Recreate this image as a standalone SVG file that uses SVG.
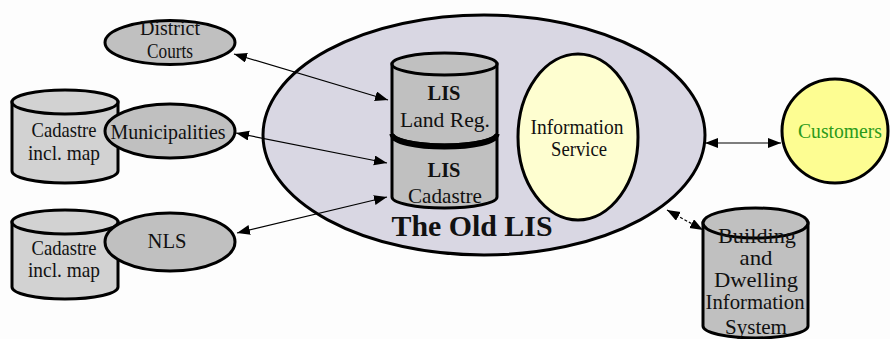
<svg xmlns="http://www.w3.org/2000/svg" width="890" height="339" viewBox="0 0 890 339">
  <style>
    .t { font-family: "Liberation Serif", "Times New Roman", serif; font-size: 21px; fill: #111; text-anchor: middle; }
    .b { font-weight: bold; }
    .big { font-size: 29px; }
    .green { fill: #2a9a1a; }
    .shape { stroke: #000; stroke-width: 3; }
    .gray { fill: #c0c0c0; }
    .light { fill: #d2d2d2; }
    .conn { stroke: #000; stroke-width: 1.2; fill: none; marker-start: url(#head); marker-end: url(#head); }
  </style>
  <defs>
    <marker id="head" markerUnits="userSpaceOnUse" markerWidth="14" markerHeight="11" refX="13" refY="5" orient="auto-start-reverse">
      <path d="M0,0 L13,5 L0,10 z" fill="#000"/>
    </marker>
  </defs>

  <rect width="890" height="339" fill="#fdfdfd"/>

  <!-- The Old LIS: container ellipse -->
  <g id="old-lis">
    <ellipse class="shape" cx="484" cy="135" rx="221" ry="120" fill="#d9d7e3"/>
    <text class="t b big" x="472" y="236" textLength="161" lengthAdjust="spacingAndGlyphs">The Old LIS</text>
  </g>

  <!-- LIS database stack: Land Reg. on top of Cadastre -->
  <g id="lis-land-reg">
    <path class="shape gray" d="M392,64 L392,133 A52.5,12 0 0 0 497,133 L497,64 Z"/>
    <ellipse class="shape gray" cx="444.5" cy="64" rx="52.5" ry="11"/>
    <text class="t b" x="444" y="100" textLength="33" lengthAdjust="spacingAndGlyphs">LIS</text>
    <text class="t" x="445" y="127" textLength="90" lengthAdjust="spacingAndGlyphs">Land Reg.</text>
  </g>
  <g id="lis-cadastre">
    <path class="shape gray" d="M392,136 L392,197 A52.5,11 0 0 0 497,197 L497,136 A52.5,12 0 0 1 392,136 Z"/>
    <path d="M392,134 A52.5,12 0 0 0 497,134" fill="none" stroke="#000" stroke-width="5"/>
    <text class="t b" x="444" y="177" textLength="33" lengthAdjust="spacingAndGlyphs">LIS</text>
    <text class="t" x="445" y="203" textLength="74" lengthAdjust="spacingAndGlyphs">Cadastre</text>
  </g>

  <!-- Information Service -->
  <g id="information-service">
    <ellipse class="shape" cx="578" cy="137" rx="60" ry="83" fill="#fefed0"/>
    <text class="t" x="577" y="134" textLength="93" lengthAdjust="spacingAndGlyphs">Information</text>
    <text class="t" x="579" y="156" textLength="56" lengthAdjust="spacingAndGlyphs">Service</text>
  </g>

  <!-- Customers -->
  <g id="customers">
    <ellipse class="shape" cx="835" cy="131" rx="53" ry="52" fill="#fdfd92"/>
    <text class="t green" x="840" y="138" textLength="84" lengthAdjust="spacingAndGlyphs">Customers</text>
  </g>

  <!-- Building and Dwelling Information System -->
  <g id="building-dwelling">
    <path class="shape gray" d="M703,223 L703,326 A52.5,12 0 0 0 808,326 L808,223 Z"/>
    <ellipse class="shape gray" cx="755.5" cy="223" rx="52.5" ry="15"/>
    <text class="t" x="757" y="243" textLength="78" lengthAdjust="spacingAndGlyphs">Building</text>
    <text class="t" x="756" y="265" textLength="33" lengthAdjust="spacingAndGlyphs">and</text>
    <text class="t" x="756" y="287" textLength="84" lengthAdjust="spacingAndGlyphs">Dwelling</text>
    <text class="t" x="755" y="309" textLength="99" lengthAdjust="spacingAndGlyphs">Information</text>
    <text class="t" x="756" y="334" textLength="62" lengthAdjust="spacingAndGlyphs">System</text>
  </g>

  <!-- Cadastre incl. map (upper) -->
  <g id="cadastre-map-1">
    <path class="shape light" d="M12,102 L12,171 A53,12 0 0 0 118,171 L118,102 Z"/>
    <ellipse class="shape light" cx="65" cy="102" rx="53" ry="12"/>
    <text class="t" x="64" y="137" textLength="65" lengthAdjust="spacingAndGlyphs">Cadastre</text>
    <text class="t" x="64" y="160" textLength="72" lengthAdjust="spacingAndGlyphs">incl. map</text>
  </g>

  <!-- Cadastre incl. map (lower) -->
  <g id="cadastre-map-2">
    <path class="shape light" d="M12,222 L12,287 A53,12 0 0 0 118,287 L118,222 Z"/>
    <ellipse class="shape light" cx="65" cy="222" rx="53" ry="12"/>
    <text class="t" x="64" y="255" textLength="65" lengthAdjust="spacingAndGlyphs">Cadastre</text>
    <text class="t" x="64" y="277" textLength="72" lengthAdjust="spacingAndGlyphs">incl. map</text>
  </g>

  <!-- District Courts -->
  <g id="district-courts">
    <ellipse class="shape gray" cx="170" cy="42.5" rx="65" ry="22"/>
    <text class="t" x="170" y="35" textLength="60" lengthAdjust="spacingAndGlyphs">District</text>
    <text class="t" x="170" y="58" textLength="46" lengthAdjust="spacingAndGlyphs">Courts</text>
  </g>

  <!-- Municipalities -->
  <g id="municipalities">
    <ellipse class="shape gray" cx="170" cy="131" rx="65" ry="27"/>
    <text class="t" x="168" y="139" textLength="115" lengthAdjust="spacingAndGlyphs">Municipalities</text>
  </g>

  <!-- NLS -->
  <g id="nls">
    <ellipse class="shape gray" cx="170" cy="242" rx="65" ry="29"/>
    <text class="t" x="167" y="248" textLength="39" lengthAdjust="spacingAndGlyphs">NLS</text>
  </g>

  <!-- Connectors -->
  <g id="connectors">
    <line class="conn" x1="234" y1="54" x2="388" y2="100"/>
    <line class="conn" x1="236" y1="133" x2="387" y2="163"/>
    <line class="conn" x1="237" y1="233" x2="387" y2="197"/>
    <line class="conn" x1="705" y1="143" x2="781" y2="143"/>
    <line class="conn" x1="667" y1="210" x2="703" y2="230" stroke-dasharray="3,2"/>
  </g>
</svg>
